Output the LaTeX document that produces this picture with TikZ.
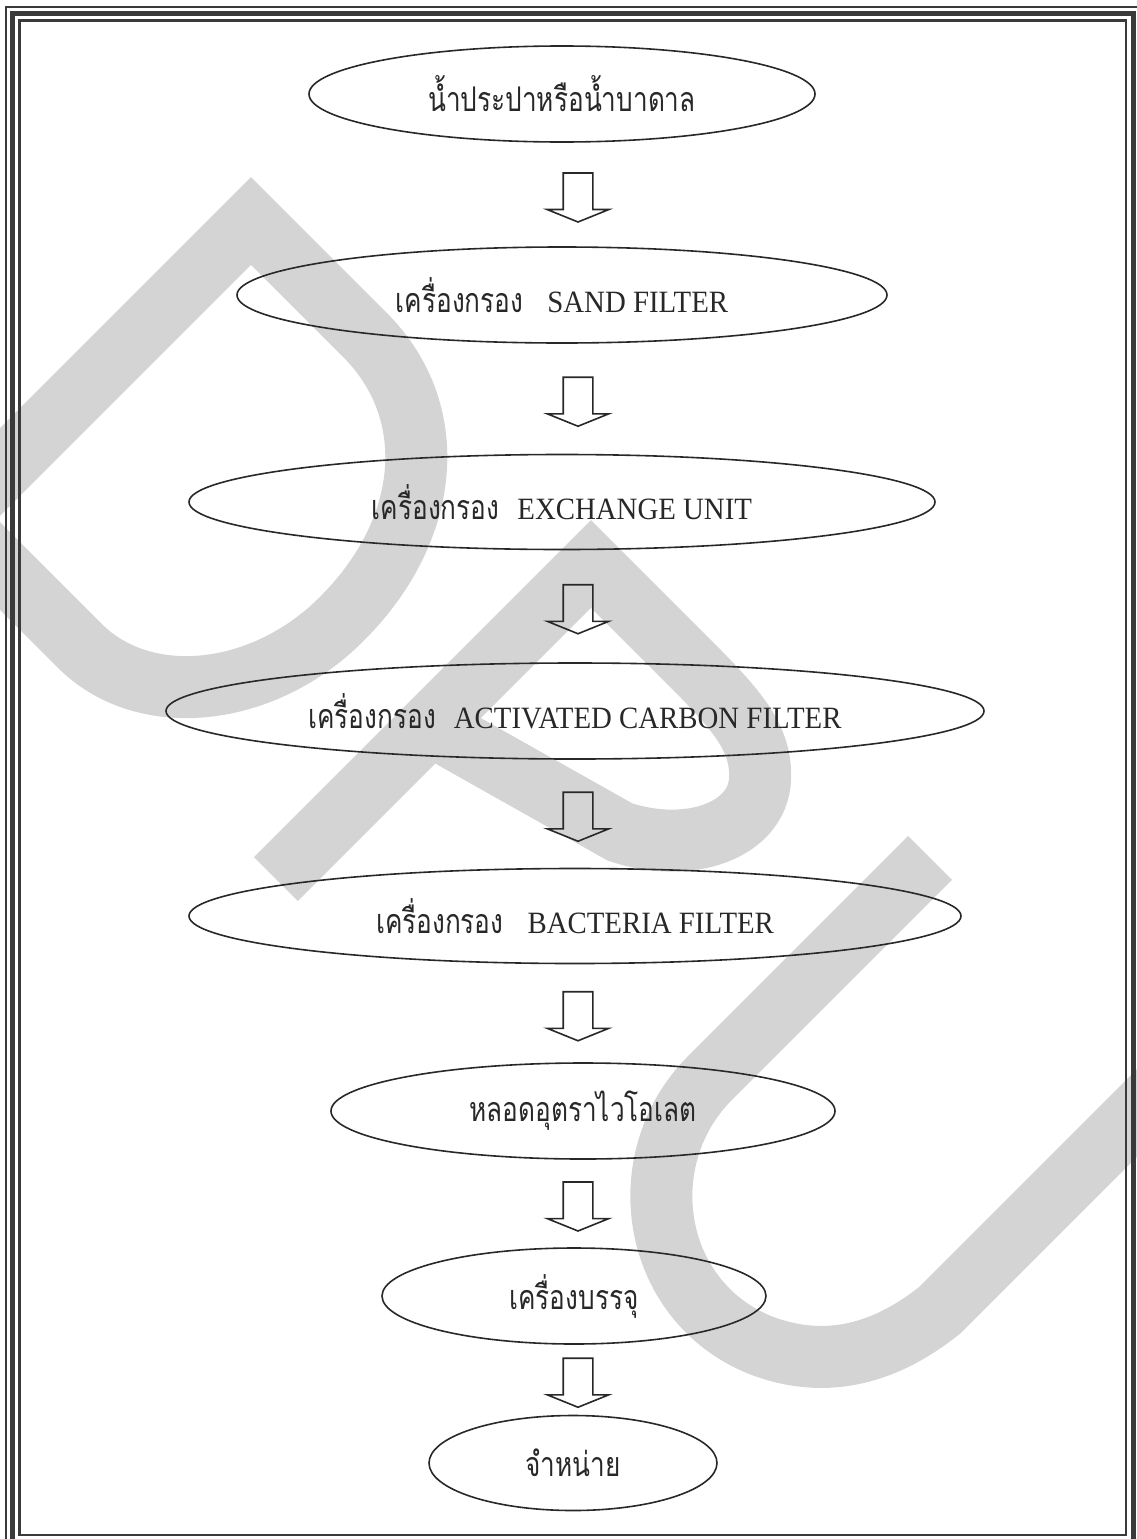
\documentclass[tikz,border=0pt]{standalone}
\usepackage{fontspec}
\setmainfont{Liberation Serif}[FakeStretch=0.93]
\newfontfamily\thaifont[Script=Thai,FakeStretch=0.77]{Loma}
\usetikzlibrary{shapes.geometric,shapes.arrows,calc}
\definecolor{wmark}{RGB}{212,212,212}
\definecolor{ink}{RGB}{40,40,40}
\definecolor{rule}{RGB}{58,58,58}
\newcommand{\thtxt}[1]{{\thaifont\fontsize{34}{40}\selectfont #1}}
\tikzset{
  stage/.style={ellipse, draw=ink, line width=1.6pt, inner sep=0pt, text=ink, font=\fontsize{31}{36}\selectfont},
  flowarrow/.style={single arrow, draw=ink, line width=1.6pt, rotate=-90, minimum height=49pt, minimum width=60pt, single arrow head extend=16pt, single arrow tip angle=136, inner xsep=0pt, inner ysep=14pt},
  band/.style={draw=wmark, line width=62pt, line cap=butt, line join=miter}
}
\begin{document}
\begin{tikzpicture}[x=1pt, y=-1pt]
\useasboundingbox (0,0) rectangle (1137,1539);
% watermark
\begin{scope}
  \clip (0,0) rectangle (1137,1539);
  \draw[band] (-47,519) -- (251,221) -- (365,335) .. controls (445,415) and (430,540) .. (330,630) .. controls (250,700) and (140,706) .. (80,646) -- cycle;
  \draw[band] (276,879) -- (591,564) -- (690,663) .. controls (740,713) and (762,740) .. (760,780) .. controls (757,830) and (690,855) .. (620,832) -- (430,725);
  \draw[band] (930,858) -- (710,1078) .. controls (630,1158) and (650,1300) .. (760,1345) .. controls (830,1372) and (890,1350) .. (940,1310) -- (1240,1010);
\end{scope}
% stages
\node[stage, minimum width=506pt, minimum height=96pt] (e1) at (562,94) {\thtxt{น้ำประปาหรือน้ำบาดาล}};
\node[stage, minimum width=650pt, minimum height=96pt] (e2) at (562,295) {\thtxt{เครื่องกรอง}\hspace{24pt}SAND FILTER};
\node[stage, minimum width=746pt, minimum height=95pt] (e3) at (562,502) {\thtxt{เครื่องกรอง}\hspace{18pt}EXCHANGE UNIT};
\node[stage, minimum width=818pt, minimum height=96pt] (e4) at (575,711) {\thtxt{เครื่องกรอง}\hspace{18pt}ACTIVATED CARBON FILTER};
\node[stage, minimum width=772pt, minimum height=95pt] (e5) at (575,916) {\thtxt{เครื่องกรอง}\hspace{24pt}BACTERIA FILTER};
\node[stage, minimum width=504pt, minimum height=96pt] (e6) at (583,1111) {\thtxt{หลอดอุตราไวโอเลต}};
\node[stage, minimum width=384pt, minimum height=96pt] (e7) at (574,1296) {\thtxt{เครื่องบรรจุ}};
\node[stage, minimum width=288pt, minimum height=95pt] (e8) at (573,1463) {\thtxt{จำหน่าย}};
% arrows
\coordinate (spine) at (578,0);
\foreach \i/\j in {1/2,2/3,3/4,4/5,5/6,6/7,7/8}{
  \coordinate (m\i) at ($(e\i.south)!0.5!(e\j.north)$);
  \node[flowarrow] (a\i) at (spine |- m\i) {};
}
% page border
\draw[rule, line width=2pt] (6,7) rectangle (1140,1549);
\draw[rule, line width=5pt] (12.5,13.5) rectangle (1133,1542);
\draw[rule, line width=2.5pt] (19.5,20.5) rectangle (1126,1535);
\end{tikzpicture}
\end{document}
